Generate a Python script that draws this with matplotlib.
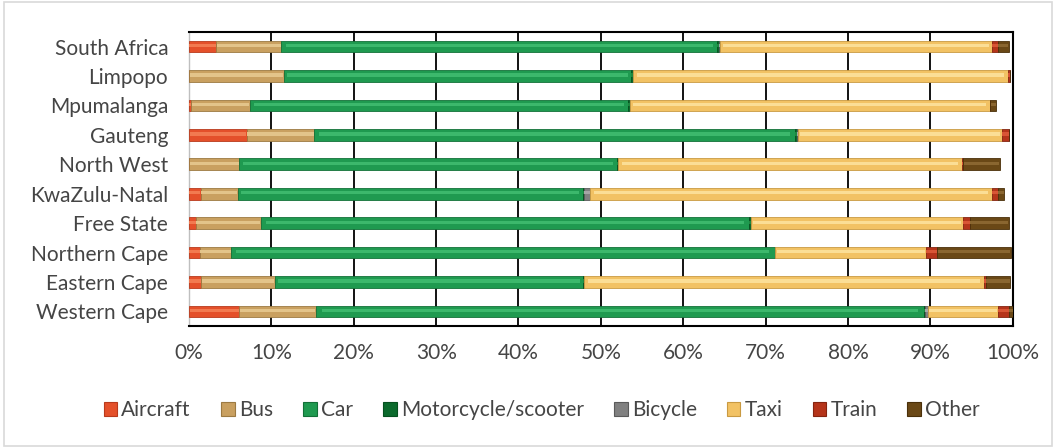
import numpy as np
import matplotlib.pyplot as plt
from matplotlib.patches import Rectangle

# provinces, top to bottom
regions = ['South Africa', 'Limpopo', 'Mpumalanga', 'Gauteng', 'North West',
           'KwaZulu-Natal', 'Free State', 'Northern Cape', 'Eastern Cape', 'Western Cape']

# share of trips by mode (%)
aircraft   = [3.3, 0.0, 0.3, 7.0, 0.0, 1.4, 0.8, 1.3, 1.5, 6.1]
bus        = [7.9, 11.5, 7.1, 8.2, 6.1, 4.5, 7.9, 3.8, 8.9, 9.3]
car        = [52.9, 42.2, 45.9, 58.4, 45.8, 41.9, 59.3, 66.0, 37.4, 73.8]
motorcycle = [0.3, 0.2, 0.2, 0.2, 0.2, 0.1, 0.2, 0.1, 0.1, 0.2]
bicycle    = [0.1, 0.0, 0.0, 0.1, 0.0, 0.8, 0.0, 0.0, 0.0, 0.3]
taxi       = [33.0, 45.5, 43.7, 24.8, 41.7, 48.8, 25.8, 18.3, 48.6, 8.5]
train      = [0.7, 0.3, 0.1, 0.8, 0.2, 0.7, 0.8, 1.3, 0.2, 1.4]
other      = [1.3, 0.0, 0.7, 0.0, 4.4, 0.8, 4.7, 9.0, 3.0, 0.4]

modes = ['Aircraft', 'Bus', 'Car', 'Motorcycle/scooter', 'Bicycle', 'Taxi', 'Train', 'Other']
series = [aircraft, bus, car, motorcycle, bicycle, taxi, train, other]
# (base, highlight, edge)
colours = [('#E4502A', '#F27A50', '#B83A1C'),
           ('#C9A060', '#E3C48A', '#9C7A42'),
           ('#1F9A50', '#3CB86C', '#137038'),
           ('#0B6A2C', '#1E8840', '#06501F'),
           ('#808080', '#A6A6A6', '#5A5A5A'),
           ('#F2C264', '#FBDE96', '#C99A42'),
           ('#B5341A', '#D85535', '#852410'),
           ('#6A4816', '#8A6630', '#4A300A')]

plt.rcParams['font.family'] = ['Lato', 'DejaVu Sans']
txt = '#454545'

fig = plt.figure(figsize=(10.56, 4.48), dpi=100)
ax = fig.add_axes([0.179, 0.272, 0.780, 0.657])

y = np.arange(len(regions))
h = 0.40
left = np.zeros(len(regions))
for vals, (base, hi, edge) in zip(series, colours):
    vals = np.array(vals)
    ax.barh(y, vals, h, left=left, color=base, edgecolor=edge, linewidth=0.6, zorder=3)
    # lighter band along the middle of each segment
    ax.barh(y - h * 0.08, vals * 0.98, h * 0.28, left=left + vals * 0.01,
            color=hi, linewidth=0, zorder=4)
    left += vals

ax.set_yticks(y)
ax.set_yticklabels(regions, fontsize=15, color=txt)
ax.set_ylim(len(regions) - 0.5, -0.5)
ax.set_xlim(0, 100)
ax.set_xticks(np.arange(0, 101, 10))
ax.set_xticklabels([f'{v}%' for v in range(0, 101, 10)], fontsize=15, color=txt)
ax.tick_params(length=0, pad=12, axis='x')
ax.tick_params(length=0, pad=15, axis='y')
ax.grid(axis='x', color='black', linewidth=1.3, zorder=1)
for s in ax.spines.values():
    s.set_color('black')
    s.set_linewidth(1.5)
ax.spines['left'].set_color('#BFBFBF')
ax.spines['left'].set_linewidth(1.0)

handles = [Rectangle((0, 0), 1, 1, facecolor=c[0], edgecolor=c[2], linewidth=0.8) for c in colours]
fig.legend(handles, modes, loc='center', bbox_to_anchor=(0.513, 0.085), ncol=8,
           frameon=False, fontsize=15, handlelength=0.65, handleheight=0.65,
           handletextpad=0.2, columnspacing=1.45, labelcolor=txt)

# light frame round the whole chart
fig.patches.append(Rectangle((0.004, 0.004), 0.992, 0.992, transform=fig.transFigure,
                             fill=False, edgecolor='#D9D9D9', linewidth=1.2))

fig.savefig('out.png', dpi=100)
